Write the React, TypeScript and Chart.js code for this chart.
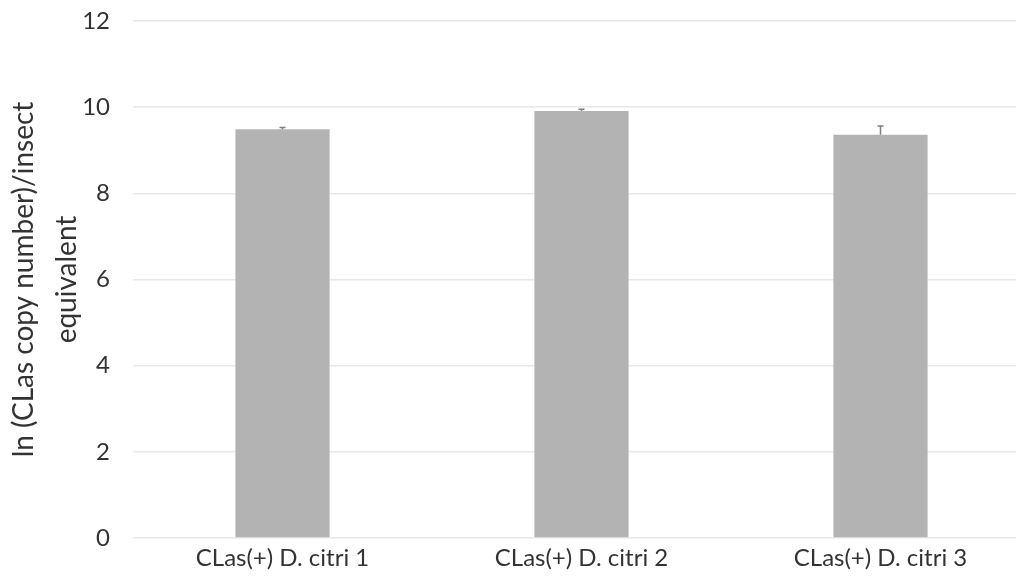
import React, { useEffect, useRef } from "react";
import { Chart, registerables } from "chart.js";

Chart.register(...registerables);

const categories = ["CLas(+) D. citri 1", "CLas(+) D. citri 2", "CLas(+) D. citri 3"];
const means = [9.49, 9.91, 9.36];
const errors = [0.04, 0.04, 0.2];
const yTickValues = [0, 2, 4, 6, 8, 10, 12];
const yTitle = ["ln (CLas copy number)/insect", "equivalent"];

const FONT = "Lato, 'Open Sans', sans-serif";

const errorBarPlugin = {
  id: "errorBars",
  afterDatasetsDraw(chart: any) {
    const ctx = chart.ctx;
    const meta = chart.getDatasetMeta(0);
    const yScale = chart.scales.y;
    ctx.save();
    ctx.strokeStyle = "#7f7f7f";
    ctx.lineWidth = 1.5;
    meta.data.forEach((bar: any, i: number) => {
      const x = bar.x;
      const yTop = yScale.getPixelForValue(means[i] + errors[i]);
      const yBase = yScale.getPixelForValue(means[i]);
      ctx.beginPath();
      ctx.moveTo(x, yBase);
      ctx.lineTo(x, yTop);
      ctx.moveTo(x - 3, yTop);
      ctx.lineTo(x + 3, yTop);
      ctx.stroke();
    });
    ctx.restore();
  },
};

export default function App() {
  const ref = useRef<HTMLCanvasElement | null>(null);
  useEffect(() => {
    if (!ref.current) return;
    const chart = new Chart(ref.current, {
      type: "bar",
      data: {
        labels: categories,
        datasets: [
          {
            data: means,
            backgroundColor: "#b3b3b3",
            borderWidth: 0,
            categoryPercentage: 1,
            barPercentage: 0.315,
          },
        ],
      },
      options: {
        animation: false,
        responsive: false,
        devicePixelRatio: 1,
        layout: { padding: { top: 21, right: 2, left: 0, bottom: 0 } },
        plugins: { legend: { display: false }, tooltip: { enabled: false } },
        scales: {
          x: {
            grid: { display: false },
            border: { display: false },
            ticks: { color: "#333333", font: { family: FONT, size: 24 }, padding: -2, maxRotation: 0 },
            afterFit: (s: any) => {
              s.height = 45;
            },
          },
          y: {
            min: 0,
            max: 12,
            afterBuildTicks: (s: any) => {
              s.ticks = yTickValues.map((v) => ({ value: v }));
            },
            grid: { color: "#e8e8e8", lineWidth: 1.5, drawTicks: true, tickLength: 23, tickColor: "rgba(0,0,0,0)" },
            border: { display: false },
            ticks: { color: "#333333", font: { family: FONT, size: 24 }, padding: 0 },
            title: {
              display: true,
              text: yTitle,
              color: "#333333",
              font: { family: FONT, size: 28, lineHeight: 1.54 },
              padding: { top: 2, bottom: 0 },
            },
            afterFit: (s: any) => {
              s.width = 133;
            },
          },
        },
      },
      plugins: [errorBarPlugin],
    });
    return () => chart.destroy();
  }, []);
  return (
    <div style={{ position: "fixed", left: 0, top: 0, width: 1016, height: 583, overflow: "hidden", background: "#fff" }}>
      <canvas ref={ref} width={1032} height={583} style={{ display: "block" }} />
    </div>
  );
}
